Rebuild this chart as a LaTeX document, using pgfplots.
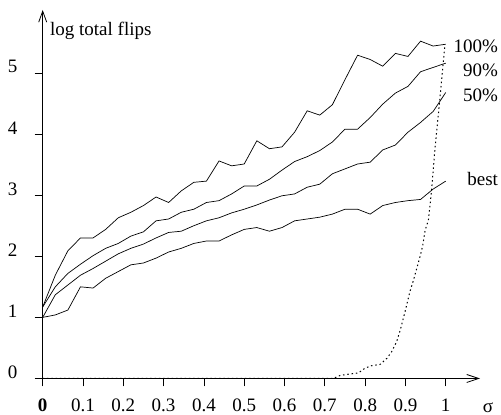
\documentclass[border=0pt]{standalone}
\usepackage{fontspec}
\setmainfont{Liberation Serif}
\usepackage{pgfplots}
\pgfplotsset{compat=1.18}
\usepackage{pgfplotstable}
\usetikzlibrary{arrows.meta}

\pgfplotstableread{
x        hundred ninety fifty best
0        1.17 1.17 1.00 1.00
0.03125  1.69 1.50 1.37 1.04
0.0625   2.09 1.72 1.53 1.12
0.09375  2.30 1.87 1.69 1.50
0.125    2.30 2.01 1.80 1.48
0.15625  2.44 2.13 1.92 1.64
0.1875   2.63 2.21 2.04 1.75
0.21875  2.72 2.33 2.13 1.86
0.25     2.83 2.40 2.20 1.89
0.28125  2.97 2.58 2.30 1.97
0.3125   2.88 2.61 2.39 2.07
0.34375  3.07 2.72 2.41 2.13
0.375    3.21 2.77 2.50 2.21
0.40625  3.23 2.88 2.58 2.25
0.4375   3.56 2.91 2.63 2.25
0.46875  3.48 3.02 2.71 2.35
0.5      3.51 3.15 2.77 2.44
0.53125  3.89 3.15 2.84 2.47
0.5625   3.76 3.26 2.92 2.41
0.59375  3.79 3.41 2.99 2.47
0.625    4.03 3.55 3.02 2.58
0.65625  4.38 3.63 3.13 2.61
0.6875   4.31 3.73 3.18 2.64
0.71875  4.48 3.87 3.35 2.69
0.75     4.89 4.08 3.43 2.77
0.78125  5.29 4.08 3.51 2.77
0.8125   5.22 4.27 3.54 2.69
0.84375  5.11 4.49 3.74 2.83
0.875    5.32 4.67 3.82 2.88
0.90625  5.27 4.78 4.03 2.91
0.9375   5.52 5.02 4.19 2.93
0.96875  5.44 5.09 4.37 3.10
1        5.47 5.16 4.68 3.23
}\curves

\pgfplotstableread{
x     y
0     0
0.721 0
0.738 0.05
0.758 0.07
0.783 0.09
0.800 0.17
0.816 0.21
0.837 0.23
0.854 0.33
0.866 0.44
0.878 0.60
0.887 0.79
0.895 0.99
0.903 1.20
0.911 1.42
0.920 1.61
0.928 1.80
0.936 1.99
0.943 2.18
0.949 2.43
0.957 2.59
0.965 3.09
0.973 3.74
0.984 4.48
0.998 5.46
}\dotted

\begin{document}
\begin{tikzpicture}[font=\fontsize{19}{21}\selectfont]
\begin{axis}[
  scale only axis,
  width=437.3pt, height=368.5pt,
  xmin=0, xmax=1.085, ymin=0, ymax=6.03,
  axis lines=left,
  x axis line style={line width=0.8pt, -{Straight Barb[length=12pt,width=8pt]}},
  y axis line style={line width=0.8pt, -{Straight Barb[length=11pt,width=8pt]}},
  tick align=outside,
  major tick length=8pt,
  tick style={line width=0.8pt, black},
  xtick={0,0.1,0.2,0.3,0.4,0.5,0.6,0.7,0.8,0.9,1},
  xticklabels={\textbf{0},0.1,0.2,0.3,0.4,0.5,0.6,0.7,0.8,0.9,1},
  ytick={0,1,2,3,4,5},
  yticklabels={0,1,2,3,4,5},
  xticklabel style={anchor=base, inner sep=0pt, yshift=-25.2pt},
  yticklabel style={anchor=base east, inner sep=0pt, xshift=-17.2pt},
  tick label style={font=\fontsize{19}{21}\selectfont},
  clip=false,
]
\addplot[black, line width=0.7pt] table[x=x, y=hundred] {\curves};
\addplot[black, line width=0.7pt] table[x=x, y=ninety] {\curves};
\addplot[black, line width=0.7pt] table[x=x, y=fifty] {\curves};
\addplot[black, line width=0.7pt] table[x=x, y=best] {\curves};
\addplot[black, line width=1pt, dash pattern=on 1.5pt off 2.8pt] table[x=x, y=y] {\dotted};

\node[anchor=base west, inner sep=0pt] at (axis cs:0.018,5.62) {log total flips};
\node[anchor=base east, inner sep=0pt] at (axis cs:1.13,5.34) {100\%};
\node[anchor=base east, inner sep=0pt] at (axis cs:1.13,4.94) {90\%};
\node[anchor=base east, inner sep=0pt] at (axis cs:1.13,4.53) {50\%};
\node[anchor=base east, inner sep=0pt] at (axis cs:1.13,3.15) {best};
\node[anchor=base, inner sep=0pt] at (axis cs:1.105,-0.55) {σ};
\end{axis}
\pgfresetboundingbox
\useasboundingbox (-42.7pt,-36.5pt) rectangle (458.3pt,378.5pt);
\end{tikzpicture}
\end{document}
